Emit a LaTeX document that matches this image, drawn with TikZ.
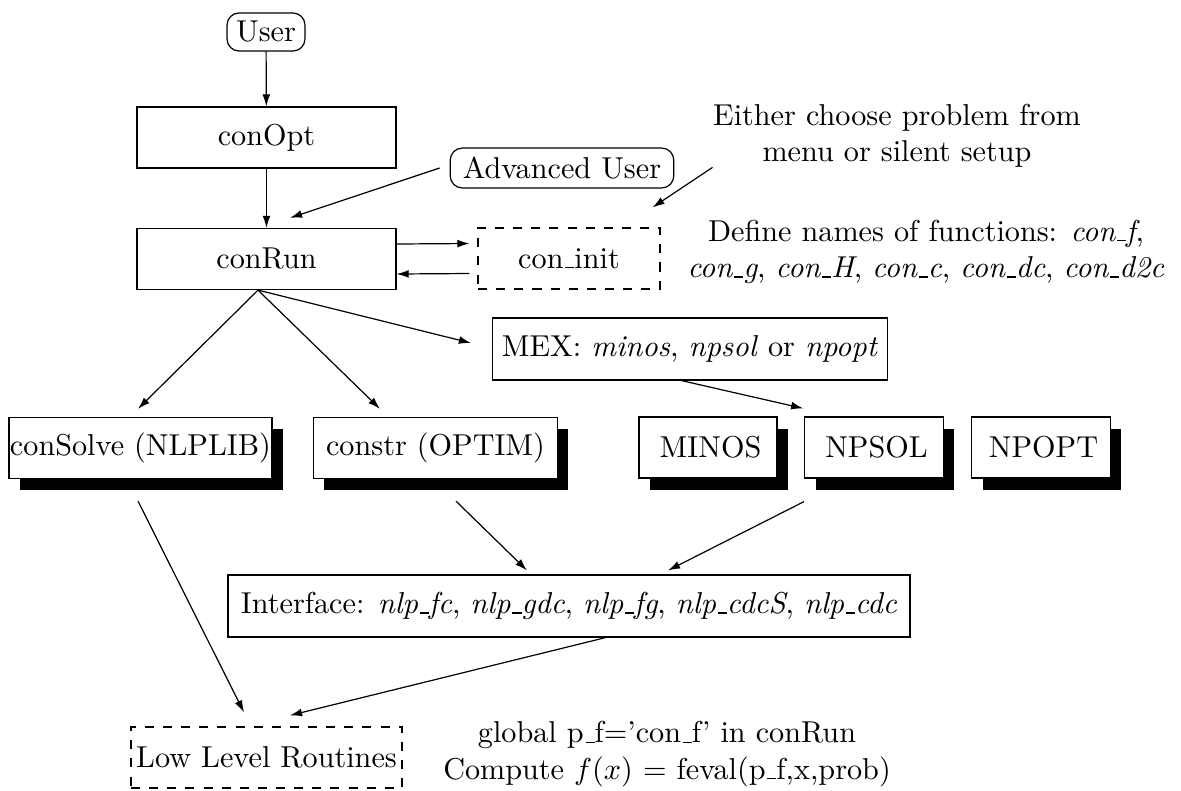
\documentclass[tikz,border=0pt]{standalone}
\usepackage{amsmath}
\usetikzlibrary{arrows.meta, calc, shadows}

% short underscore, as in the old fonts
\newcommand{\us}{\leavevmode\kern.06em\vbox{\hrule width.3em}}

\tikzset{
  box/.style={draw, rectangle, minimum height=20.2pt, inner sep=1pt},
  dbox/.style={box, dashed},
  rbox/.style={draw, rectangle, rounded corners=4pt, inner sep=1pt},
  shbox/.style={box, fill=white,
    drop shadow={shadow xshift=3.6pt, shadow yshift=-3.9pt, fill=black, opacity=1}},
  note/.style={align=center, inner sep=0pt}
}

\begin{document}
\begin{tikzpicture}[x=0.331pt, y=-0.331pt, >={Latex[length=4pt,width=2.6pt]}]
    \useasboundingbox (0,0) rectangle (1181,790);

    % Top of the call chain
    \node[rbox, minimum width=25.8pt, minimum height=12.6pt] (user) at (266,32) {User};
    \node[box, minimum width=85.7pt] (conopt) at (266.5,137.5) {conOpt};
    \node[box, minimum width=85.7pt] (conrun) at (266.5,259) {conRun};
    \node[rbox, minimum width=74pt, minimum height=13.2pt] (adv) at (562,168) {Advanced User};
    \node[dbox, minimum width=60.2pt] (coninit) at (569,258.5) {con\us init};

    \node[note] (either) at (897,136) {Either choose problem from\\menu or silent setup};
    \node[note] (define) at (926,252) {Define names of functions: \textit{con\us f},\\
      \textit{con\us g}, \textit{con\us H}, \textit{con\us c}, \textit{con\us dc}, \textit{con\us d2c}};

    % Solvers
    \node[box, minimum width=130.7pt, minimum height=20.5pt] (mex) at (690,349)
      {MEX: \textit{minos}, \textit{npsol} or \textit{npopt}};
    \node[shbox, minimum width=85.7pt, inner xsep=0.3pt] (consolve) at (140.5,448) {conSolve (NLPLIB)};
    \node[shbox, minimum width=80.8pt] (constr) at (435.5,448) {constr (OPTIM)};
    \node[shbox, minimum width=45.7pt] (minos) at (708,447.5) {\,MINOS};
    \node[shbox, minimum width=45.8pt] (npsol) at (874,447.5) {\,NPSOL};
    \node[shbox, minimum width=45.8pt] (npopt) at (1041,447.5) {\,NPOPT};

    % Interface and low level
    \node[box, minimum width=225.7pt, minimum height=20.5pt] (iface) at (569,606)
      {Interface: \textit{nlp\us fc}, \textit{nlp\us gdc}, \textit{nlp\us fg}, \textit{nlp\us cdcS}, \textit{nlp\us cdc}};
    \node[dbox, minimum width=89.7pt] (low) at (266.5,757.5) {Low Level Routines};
    \node[note] (glob) at (667,754) {global p\us f='con\us f' in conRun\\
      Compute $f(x)$ = feval(p\us f,x,prob)};

    \coordinate (fork) at ($(conrun.south)+(-8.5,0)$);

    % Arrows
    \draw[->] (user) -- (conopt);
    \draw[->] (conopt) -- (conrun);
    \draw[->] ($(adv.west)+(-10,0)$) -- ($(conrun.north)+(23.5,-10)$);
    \draw[->] ($(coninit.north east)+(52,-60)$) -- ($(coninit.north east)+(-8,-20)$);
    \draw[->] ($(conrun.east)+(0,-15)$) -- ($(coninit.west)+(-8,-15)$);
    \draw[->] ($(coninit.west)+(-8,15)$) -- ($(conrun.east)+(0,15)$);

    \draw[->] (fork) -- ($(consolve.north)+(-2.5,-8)$);
    \draw[->] (fork) -- ($(constr.north)+(-55.5,-8)$);
    \draw[->] (fork) -- ($(mex.west)+(-21,-6)$);
    \draw[->] ($(mex.south)+(-8.5,0)$) -- ($(npsol.north west)+(-1,-8)$);

    \draw[->] ($(consolve.south)+(-2.5,22)$) -- ($(low.north)+(-22.5,-14)$);
    \draw[->] ($(constr.south)+(20.5,22)$) -- ($(iface.north)+(-42,-4)$);
    \draw[->] ($(npsol.south)+(-70,23)$) -- ($(iface.north)+(99,-4)$);
    \draw[->] ($(iface.south)+(36.6,0)$) -- ($(low.north)+(23.5,-11)$);
\end{tikzpicture}
\end{document}
